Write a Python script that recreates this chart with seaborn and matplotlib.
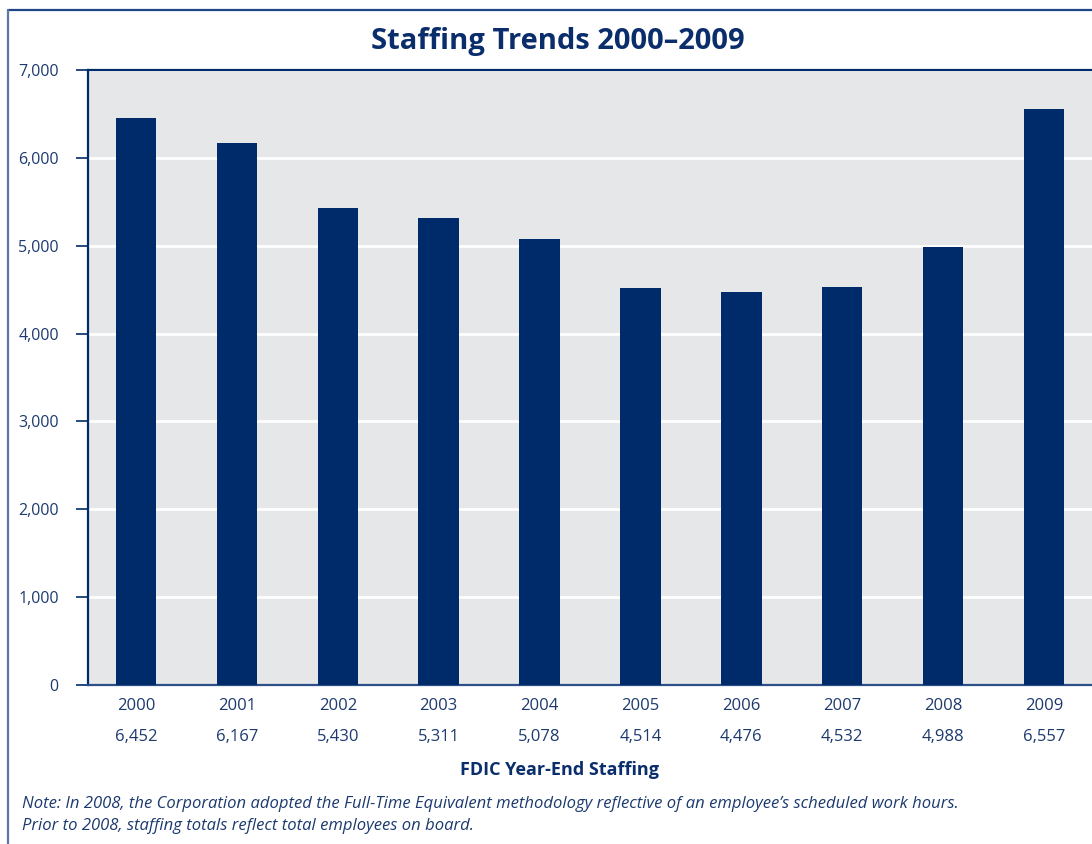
import matplotlib
matplotlib.use("Agg")
import matplotlib.pyplot as plt
from matplotlib.lines import Line2D
import matplotlib.transforms as mtransforms
import seaborn as sns
import pandas as pd

years = ["2000", "2001", "2002", "2003", "2004", "2005", "2006", "2007", "2008", "2009"]
staffing = [6452, 6167, 5430, 5311, 5078, 4514, 4476, 4532, 4988, 6557]
value_labels = ["6,452", "6,167", "5,430", "5,311", "5,078", "4,514", "4,476", "4,532", "4,988", "6,557"]
y_ticks = [0, 1000, 2000, 3000, 4000, 5000, 6000, 7000]
y_tick_labels = ["0", "1,000", "2,000", "3,000", "4,000", "5,000", "6,000", "7,000"]

title = "Staffing Trends 2000\u20132009"
xlabel = "FDIC Year-End Staffing"
note = ("Note: In 2008, the Corporation adopted the Full-Time Equivalent methodology reflective of an employee\u2019s scheduled work hours.\n"
        "Prior to 2008, staffing totals reflect total employees on board.")

NAVY = "#002b6a"
TEXT = "#1c3a6e"
BG = "#e6e7e8"
FONT = ["Open Sans", "DejaVu Sans"]

sns.set_theme(style="white")
plt.rcParams["font.family"] = FONT

W, H = 1092, 844
fig = plt.figure(figsize=(W / 100, H / 100), dpi=100)
ax = fig.add_axes([88 / W, 1 - 685 / H, 1 - 88 / W, (685 - 70) / H])

df = pd.DataFrame({"year": years, "staff": staffing})
sns.barplot(data=df, x="year", y="staff", color=NAVY, saturation=1, width=0.4, ax=ax,
            zorder=3, linewidth=0, edgecolor="none")

ax.set_facecolor(BG)
ax.set_xlim(-0.476, 9.476)
ax.set_ylim(0, 7000)
ax.set_yticks(y_ticks)
ax.set_yticklabels(y_tick_labels, fontsize=11.5, color=TEXT)
ax.set_xticks(range(len(years)))
ax.set_xticklabels(years, fontsize=12, color=TEXT)
ax.tick_params(axis="y", direction="out", length=9, width=1.2, color=NAVY, pad=12, left=True)
ax.tick_params(axis="x", length=0, pad=9)
ax.grid(axis="y", color="white", linewidth=2, zorder=1)
ax.set_axisbelow(True)
ax.set_xlabel("")
ax.set_ylabel("")

for side in ["left", "top", "bottom"]:
    ax.spines[side].set_visible(True)
    ax.spines[side].set_color(NAVY)
    ax.spines[side].set_linewidth(1.6)
ax.spines["right"].set_visible(False)
ax.spines["bottom"].set_color("#2c4f8a")

trans = mtransforms.blended_transform_factory(ax.transData, fig.transFigure)
for i, lab in enumerate(value_labels):
    ax.text(i, 1 - 737 / H, lab, transform=trans, ha="center", va="center",
            fontsize=12, color=TEXT)

fig.text(558 / W, 1 - 41 / H, title, ha="center", va="center", fontsize=21,
         fontweight="bold", color="#0a2d6b")
fig.text(560 / W, 1 - 770 / H, xlabel, ha="center", va="center", fontsize=13,
         fontweight="bold", color="#0a2d6b")
fig.text(22 / W, 1 - 815 / H, note, ha="left", va="center", fontsize=12,
         style="italic", color=TEXT, linespacing=1.45)

# frame lines
fig.add_artist(Line2D([8 / W, 1], [1 - 10 / H, 1 - 10 / H], color="#1f4585", linewidth=1.6,
                      transform=fig.transFigure))
fig.add_artist(Line2D([8 / W, 8 / W], [0, 1 - 10 / H], color="#5c77a8", linewidth=1.6,
                      transform=fig.transFigure))

fig.savefig("out.png", dpi=100)
